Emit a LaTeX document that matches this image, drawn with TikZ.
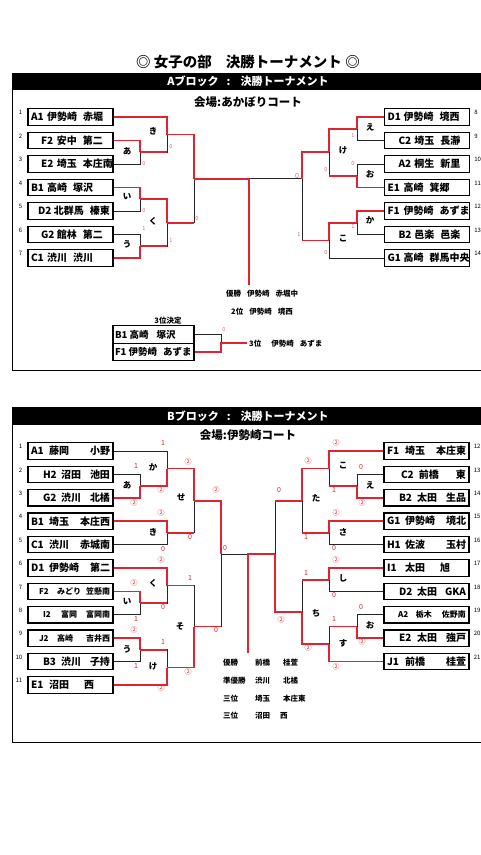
\documentclass[tikz,border=0pt]{standalone}
\usepackage{fontspec}
\setmainfont{Noto Sans CJK JP}
\usepackage{xcolor}
\usetikzlibrary{positioning, calc}

\definecolor{winred}{RGB}{222,36,48}
\definecolor{ptpink}{RGB}{236,96,118}
% team text: [indent] code, city, school
\newcommand{\tma}[4][0pt]{\makebox[79pt][l]{\hspace*{#1}\makebox[16pt][l]{#2}#3\hspace{6pt}#4}}
\newcommand{\tmb}[4][0pt]{\makebox[79pt][l]{\hspace*{#1}\makebox[18pt][l]{#2}#3\hfill#4}}

\begin{document}
\begin{tikzpicture}[x=1pt, y=-1pt, font=\bfseries,
    teamL/.style={draw, line width=1.2pt, minimum height=16.5pt, minimum width=85pt, inner sep=0pt,
      font=\bfseries\fontsize{10}{11}\selectfont},
    teamR/.style={teamL},
    small/.style={font=\bfseries\fontsize{8}{9}\selectfont},
    box3/.style={draw, line width=1.2pt, minimum height=17.5pt, minimum width=81pt, inner sep=0pt,
      font=\bfseries\fontsize{9.5}{11}\selectfont},
    num/.style={inner sep=0pt, font=\fontsize{6}{7}\selectfont},
    match/.style={inner sep=0pt, font=\bfseries\fontsize{8.5}{9}\selectfont},
    asc/.style={inner sep=0pt, text=ptpink, font=\fontsize{5.5}{6}\selectfont},
    bsc/.style={inner sep=0pt, text=winred, font=\fontsize{7}{8}\selectfont},
    res/.style={inner sep=0pt, anchor=west, font=\bfseries\fontsize{7.5}{9}\selectfont},
    lose/.style={line width=0.9pt, black!85},
    win/.style={line width=1.6pt, winred}]
\useasboundingbox (0,0) rectangle (480,855);

\node[font=\bfseries\fontsize{14.5}{16}\selectfont] (title) at (248,62) {◎ 女子の部\hspace{14pt}決勝トーナメント ◎};

% ---------------- A block ----------------
\draw[line width=1pt] (12,73) rectangle (484,370);
\fill[black] (12,73) rectangle (484,90);
\node[text=white, font=\bfseries\fontsize{11}{12}\selectfont] (aHead) at (248,81.5) {Aブロック\hspace{8pt}:\hspace{10pt}決勝トーナメント};
\node[font=\bfseries\fontsize{11.5}{13}\selectfont] (aHall) at (248,102) {会場:あかぼりコート};

\node[teamL] (aL1) at (70.5,117) {\tma{A1}{伊勢崎}{赤堀}};
\node[teamL] (aL2) at (70.5,140.5) {\tma[10pt]{F2}{安中}{第二}};
\node[teamL] (aL3) at (70.5,164) {\tma[10pt]{E2}{埼玉}{本庄南}};
\node[teamL] (aL4) at (70.5,187.5) {\tma{B1}{高崎}{塚沢}};
\node[teamL] (aL5) at (70.5,211) {\tma[7pt]{D2}{北群馬}{榛東}};
\node[teamL] (aL6) at (70.5,234.5) {\tma[10pt]{G2}{館林}{第二}};
\node[teamL] (aL7) at (70.5,258) {\tma{C1}{渋川}{渋川}};

\node[teamR] (aR8) at (427,117) {\tma{D1}{伊勢崎}{境西}};
\node[teamR] (aR9) at (427,140.5) {\tma[11pt]{C2}{埼玉}{長瀞}};
\node[teamR] (aR10) at (427,164) {\tma[11pt]{A2}{桐生}{新里}};
\node[teamR] (aR11) at (427,187.5) {\tma{E1}{高崎}{箕郷}};
\node[teamR] (aR12) at (427,211) {\tma{F1}{伊勢崎}{あずま}};
\node[teamR] (aR13) at (427,234.5) {\tma[11pt]{B2}{邑楽}{邑楽}};
\node[teamR] (aR14) at (427,258) {\tma{G1}{高崎}{群馬中央}};

\foreach \n/\k in {aL1/1, aL2/2, aL3/3, aL4/4, aL5/5, aL6/6, aL7/7}
  \node[num, below left=2pt and 5pt of \n.north west] {\k};
\foreach \n/\k in {aR8/8, aR9/9, aR10/10, aR11/11, aR12/12, aR13/13, aR14/14}
  \node[num, below right=2pt and 4pt of \n.north east] {\k};

\coordinate (aA) at (140,152.25);
\coordinate (aKi) at (167,134.6);
\coordinate (aI) at (140,199.25);
\coordinate (aU) at (140,246.25);
\coordinate (aKu) at (167,222.75);
\coordinate (aSL) at (194,178.7);
\coordinate (aE) at (357,128.75);
\coordinate (aO) at (357,175.75);
\coordinate (aKe) at (329,152.25);
\coordinate (aKa) at (357,222.75);
\coordinate (aKo) at (329,240.4);
\coordinate (aSR) at (302,178.7);
\coordinate (aF) at (249,178.7);
\coordinate (aFw) at (249,285);

% losers
\draw[lose] (aL3.east) -| (aA);
\draw[lose] (aL5.east) -| (aI);
\draw[lose] (aL6.east) -| (aU);
\draw[lose] (aA) -| (aKi);
\draw[lose] (aU) -| (aKu);
\draw[lose] (aKu) -| (aSL);
\draw[lose] (aR9.west) -| (aE);
\draw[lose] (aR10.west) -| (aO);
\draw[lose] (aO) -| (aKe);
\draw[lose] (aR13.west) -| (aKa);
\draw[lose] (aR14.west) -| (aKo);
\draw[lose] (aKo) -| (aSR);
\draw[lose] (aSR) -- (aF);
% winners
\draw[win] (aL2.east) -| (aA);
\draw[win] (aL1.east) -| (aKi);
\draw[win] (aL4.east) -| (aI);
\draw[win] (aL7.east) -| (aU);
\draw[win] (aA) -- (aA -| aKi);
\draw[win] (aI) -| (aKu);
\draw[win] (aU) -- (aU -| aKu);
\draw[win] (aKi) -| (aSL);
\draw[win] (aKu) -- (aKu -| aSL);
\draw[win] (aSL) -- (aF) -- (aFw);
\draw[win] (aR8.west) -| (aE);
\draw[win] (aR11.west) -| (aO);
\draw[win] (aE) -| (aKe);
\draw[win] (aO) -- (aO -| aKe);
\draw[win] (aR12.west) -| (aKa);
\draw[win] (aKa) -| (aKo);
\draw[win] (aKe) -| (aSR);
\draw[win] (aKo) -- (aKo -| aSR);

\node[match] at (153,131) {き};
\node[match] at (127,151) {あ};
\node[match] at (127,197) {い};
\node[match] at (153,221) {く};
\node[match] at (127,244) {う};
\node[match] at (370,127) {え};
\node[match] at (343,150) {け};
\node[match] at (370,174) {お};
\node[match] at (370,220) {か};
\node[match] at (343,239) {こ};

\node[asc] at (171,147) {0};
\node[asc] at (144,164) {0};
\node[asc] at (144,211) {0};
\node[asc] at (144,229) {1};
\node[asc] at (171,241) {1};
\node[asc] at (197,219) {0};
\node[asc, font=\fontsize{7}{8}\selectfont] at (297,176) {0};
\node[asc] at (299,235) {1};
\node[asc] at (326,170) {0};
\node[asc] at (326,253) {0};
\node[asc] at (353,136) {1};
\node[asc] at (353,164) {0};
\node[asc] at (353,227) {1};

\node[res, anchor=center] (aWin) at (262,294) {優勝\hspace{6pt}伊勢崎\hspace{6pt}赤堀中};
\node[res, anchor=center] (aSecond) at (262,312) {2位\hspace{6pt}伊勢崎\hspace{6pt}境西};

% third place
\node[res, anchor=center] (aThirdHead) at (168,321) {3位決定};
\node[box3] (a3B) at (153.5,334.5) {\makebox[77pt][l]{B1 高崎\hspace{8pt}塚沢}};
\node[box3] (a3F) at (153.5,352) {\makebox[77pt][l]{F1 伊勢崎\hspace{6pt}あずま}};
\coordinate (a3j) at (221,343.25);
\coordinate (a3w) at (247,343.25);
\draw[lose] (a3B.east) -| (a3j);
\draw[win] (a3F.east) -| (a3j) -- (a3w);
\node[asc] at (224,330) {0};
\node[res, right=2pt of a3w] (aThird) {3位\hspace{10pt}伊勢崎\hspace{6pt}あずま};

% ---------------- B block ----------------
\draw[line width=1pt] (12,407) rectangle (484,742);
\fill[black] (12,407) rectangle (484,425);
\node[text=white, font=\bfseries\fontsize{11}{12}\selectfont] (bHead) at (248,416) {Bブロック\hspace{8pt}:\hspace{10pt}決勝トーナメント};
\node[font=\bfseries\fontsize{11.5}{13}\selectfont] (bHall) at (248,435) {会場:伊勢崎コート};

\node[teamL] (bL1) at (70.5,451) {\tmb{A1}{藤岡}{小野}};
\node[teamL] (bL2) at (70.5,474.4) {\tmb[12pt]{H2}{沼田}{池田}};
\node[teamL] (bL3) at (70.5,497.8) {\tmb[12pt]{G2}{渋川}{北橘}};
\node[teamL] (bL4) at (70.5,521.2) {\tmb{B1}{埼玉}{本庄西}};
\node[teamL] (bL5) at (70.5,544.6) {\tmb{C1}{渋川}{赤城南}};
\node[teamL] (bL6) at (70.5,568) {\tmb{D1}{伊勢崎}{第二}};
\node[teamL, small] (bL7) at (70.5,591.4) {\tmb[8pt]{F2}{みどり}{笠懸南}};
\node[teamL, small] (bL8) at (70.5,614.8) {\tmb[12pt]{I2}{富岡}{富岡南}};
\node[teamL, small] (bL9) at (70.5,638.2) {\tmb[8pt]{J2}{高崎}{吉井西}};
\node[teamL] (bL10) at (70.5,661.6) {\tmb[12pt]{B3}{渋川}{子持}};
\node[teamL] (bL11) at (70.5,685) {\tmb{E1}{沼田}{西\hspace*{16pt}}};

\node[teamR] (bR12) at (426.5,451) {\tmb{F1}{埼玉}{本庄東}};
\node[teamR] (bR13) at (426.5,474.4) {\tmb[14pt]{C2}{前橋}{東}};
\node[teamR] (bR14) at (426.5,497.8) {\tmb[12pt]{B2}{太田}{生品}};
\node[teamR] (bR15) at (426.5,521.2) {\tmb{G1}{伊勢崎}{境北}};
\node[teamR] (bR16) at (426.5,544.6) {\tmb{H1}{佐波}{玉村}};
\node[teamR] (bR17) at (426.5,568) {\tmb{I1}{太田}{旭\hspace*{16pt}}};
\node[teamR] (bR18) at (426.5,591.4) {\tmb[12pt]{D2}{太田}{GKA}};
\node[teamR, small] (bR19) at (426.5,614.8) {\tmb[11pt]{A2}{栃木}{佐野南}};
\node[teamR] (bR20) at (426.5,638.2) {\tmb[12pt]{E2}{太田}{強戸}};
\node[teamR] (bR21) at (426.5,661.6) {\tmb{J1}{前橋}{桂萱}};

\foreach \n/\k in {bL1/1, bL2/2, bL3/3, bL4/4, bL5/5, bL6/6, bL7/7, bL8/8, bL9/9, bL10/10, bL11/11}
  \node[num, below left=2pt and 5pt of \n.north west] {\k};
\foreach \n/\k in {bR12/12, bR13/13, bR14/14, bR15/15, bR16/16, bR17/17, bR18/18, bR19/19, bR20/20, bR21/21}
  \node[num, below right=2pt and 4pt of \n.north east] {\k};

\coordinate (bA) at (140,486.1);
\coordinate (bKa) at (167,468.6);
\coordinate (bKi) at (167,532.9);
\coordinate (bSe) at (194,500.8);
\coordinate (bI) at (140,603.1);
\coordinate (bKu) at (167,585.6);
\coordinate (bU) at (140,649.9);
\coordinate (bKe) at (167,667.5);
\coordinate (bSo) at (194,626.5);
\coordinate (bSL) at (221,554);
\coordinate (bE) at (357,486.1);
\coordinate (bKo) at (329,468.6);
\coordinate (bSa) at (329,532.9);
\coordinate (bTa) at (302,500.8);
\coordinate (bShi) at (329,579.7);
\coordinate (bO) at (357,626.5);
\coordinate (bSu) at (329,644);
\coordinate (bChi) at (302,611.9);
\coordinate (bSR) at (275,554);
\coordinate (bF) at (248,554);
\coordinate (bFw) at (248,653);

% losers
\draw[lose] (bL1.east) -| (bKa);
\draw[lose] (bL2.east) -| (bA);
\draw[lose] (bL5.east) -| (bKi);
\draw[lose] (bKi) -| (bSe);
\draw[lose] (bL8.east) -| (bI);
\draw[lose] (bI) -| (bKu);
\draw[lose] (bL10.east) -| (bU);
\draw[lose] (bU) -| (bKe);
\draw[lose] (bKu) -| (bSo);
\draw[lose] (bSo) -| (bSL);
\draw[lose] (bSL) -- (bF);
\draw[lose] (bR13.west) -| (bE);
\draw[lose] (bE) -| (bKo);
\draw[lose] (bR16.west) -| (bSa);
\draw[lose] (bSa) -| (bTa);
\draw[lose] (bTa) -| (bSR);
\draw[lose] (bR18.west) -| (bShi);
\draw[lose] (bShi) -| (bChi);
\draw[lose] (bR19.west) -| (bO);
\draw[lose] (bO) -| (bSu);
% winners
\draw[win] (bL3.east) -| (bA);
\draw[win] (bA) -| (bKa);
\draw[win] (bL4.east) -| (bKi);
\draw[win] (bKa) -| (bSe);
\draw[win] (bKi) -- (bKi -| bSe);
\draw[win] (bSe) -| (bSL);
\draw[win] (bL7.east) -| (bI);
\draw[win] (bI) -- (bI -| bKu);
\draw[win] (bL6.east) -| (bKu);
\draw[win] (bL9.east) -| (bU);
\draw[win] (bU) -- (bU -| bKe);
\draw[win] (bL11.east) -| (bKe);
\draw[win] (bKu) -- (bKu -| bSo);
\draw[win] (bKe) -| (bSo);
\draw[win] (bSo) -- (bSo -| bSL);
\draw[win] (bR14.west) -| (bE);
\draw[win] (bE) -- (bE -| bKo);
\draw[win] (bR12.west) -| (bKo);
\draw[win] (bKo) -| (bTa);
\draw[win] (bR15.west) -| (bSa);
\draw[win] (bSa) -- (bSa -| bTa);
\draw[win] (bTa) -- (bTa -| bSR);
\draw[win] (bR17.west) -| (bShi);
\draw[win] (bShi) -- (bShi -| bChi);
\draw[win] (bR20.west) -| (bO);
\draw[win] (bO) -- (bO -| bSu);
\draw[win] (bR21.west) -| (bSu);
\draw[win] (bSu) -| (bChi);
\draw[win] (bChi) -| (bSR);
\draw[win] (bSR) -- (bF) -- (bFw);

\node[match] at (127,485) {あ};
\node[match] at (153,467) {か};
\node[match] at (153,532) {き};
\node[match] at (181,497) {せ};
\node[match] at (153,583) {く};
\node[match] at (127,602) {い};
\node[match] at (127,649) {う};
\node[match] at (153,666) {け};
\node[match] at (180,626) {そ};
\node[match] at (343,466) {こ};
\node[match] at (370,485) {え};
\node[match] at (343,532) {さ};
\node[match] at (316,498) {た};
\node[match] at (343,578) {し};
\node[match] at (370,625) {お};
\node[match] at (343,643) {す};
\node[match] at (316,613) {ち};

\node[bsc] at (136,466) {1};
\node[bsc] at (134,503) {②};
\node[bsc] at (163,443) {1};
\node[bsc] at (161,490) {②};
\node[bsc] at (161,513) {②};
\node[bsc] at (163,549) {0};
\node[bsc] at (188,462) {②};
\node[bsc] at (190,537) {0};
\node[bsc] at (161,560) {②};
\node[bsc] at (163,607) {0};
\node[bsc] at (134,583) {②};
\node[bsc] at (136,619) {1};
\node[bsc] at (134,630) {②};
\node[bsc] at (136,666) {1};
\node[bsc] at (163,642) {1};
\node[bsc] at (161,688) {②};
\node[bsc] at (190,578) {1};
\node[bsc] at (188,672) {②};
\node[bsc] at (216,490) {②};
\node[bsc] at (216,630) {0};
\node[bsc] at (225,548) {0};
\node[bsc] at (361,467) {0};
\node[bsc] at (362,503) {②};
\node[bsc] at (336,443) {②};
\node[bsc] at (334,490) {1};
\node[bsc] at (336,513) {②};
\node[bsc] at (334,548) {0};
\node[bsc] at (308,461) {②};
\node[bsc] at (306,537) {1};
\node[bsc] at (279,490) {0};
\node[bsc] at (281,620) {②};
\node[bsc] at (336,560) {②};
\node[bsc] at (334,595) {0};
\node[bsc] at (361,607) {0};
\node[bsc] at (362,642) {②};
\node[bsc] at (334,619) {1};
\node[bsc] at (336,667) {②};
\node[bsc] at (306,573) {1};
\node[bsc] at (308,648) {②};

\node[res] (bWin) at (223,663) {優勝};
\node[res] at (255,663) {前橋};
\node[res] at (283,663) {桂萱};
\node[res] (bSecond) at (223,681) {準優勝};
\node[res] at (255,681) {渋川};
\node[res] at (283,681) {北橘};
\node[res] (bThird) at (223,699) {三位};
\node[res] at (255,699) {埼玉};
\node[res] at (283,699) {本庄東};
\node[res] (bThirdB) at (223,716) {三位};
\node[res] at (255,716) {沼田};
\node[res] at (280,716) {西};
\end{tikzpicture}
\end{document}
